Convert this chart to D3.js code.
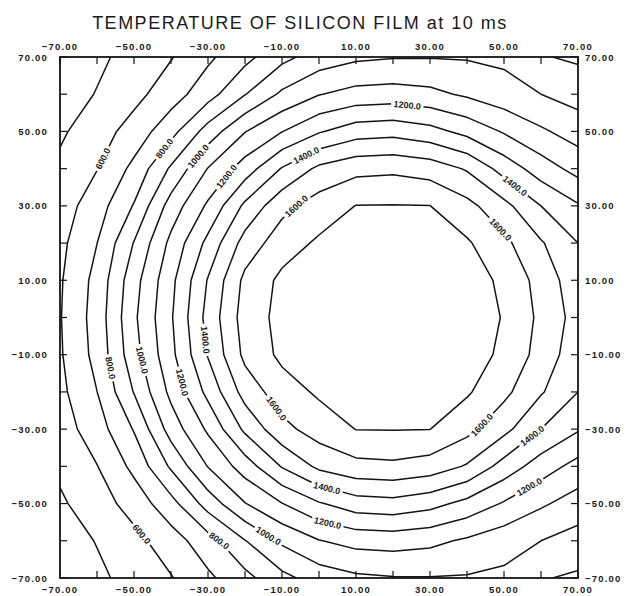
<!DOCTYPE html>
<html>
<head>
<meta charset="utf-8">
<script src="https://cdn.jsdelivr.net/npm/d3@7"></script>
<style>
  body { margin: 0; background: #fff; }
  svg { display: block; }
  text { font-family: "Liberation Sans", Arial, sans-serif; fill: #1a1a1a; }
</style>
</head>
<body>
<svg id="chart" width="631" height="596"></svg>
<script>
// grid of film temperatures
const xNodes = [-70, -60, -50, -40, -30, -20, -10, 0, 10, 20, 30, 40, 50, 60, 70];
const yNodes = [70, 60, 50, 40, 30, 20, 10, 0, -10, -20, -30, -40, -50, -60, -70];

// one row per yNodes entry, one column per xNodes entry
const tempRows = [
  [426, 479, 536, 594,  681,  770,  872,  945,  982,  994,  996,  992,  980,  907,  885],
  [450, 505, 570, 654,  759,  896, 1018, 1096, 1134, 1142, 1125, 1085, 1040, 1000,  960],
  [485, 554, 641, 765,  943, 1096, 1197, 1291, 1354, 1367, 1335, 1270, 1190, 1115, 1055],
  [520, 597, 726, 915, 1104, 1248, 1407, 1522, 1570, 1580, 1555, 1490, 1360, 1250, 1165],
  [552, 654, 807, 1043, 1217, 1421, 1570, 1646, 1702, 1704, 1701, 1630, 1530, 1400, 1310],
  [575, 699, 905, 1126, 1328, 1540, 1655, 1715, 1738, 1743, 1730, 1712, 1625, 1510, 1400],
  [589, 732, 962, 1173, 1407, 1625, 1722, 1743, 1769, 1773, 1762, 1735, 1685, 1560, 1440],
  [594, 742, 982, 1189, 1434, 1645, 1730, 1754, 1777, 1786, 1770, 1745, 1695, 1577, 1460],
  [589, 732, 962, 1173, 1407, 1625, 1722, 1743, 1769, 1773, 1762, 1735, 1685, 1560, 1440],
  [575, 699, 905, 1126, 1328, 1540, 1655, 1715, 1738, 1743, 1730, 1712, 1625, 1510, 1400],
  [552, 654, 807, 1043, 1217, 1421, 1570, 1646, 1702, 1704, 1701, 1630, 1530, 1400, 1310],
  [520, 597, 726, 915, 1104, 1248, 1407, 1522, 1570, 1580, 1555, 1490, 1360, 1250, 1165],
  [485, 554, 641, 765,  943, 1096, 1197, 1291, 1354, 1367, 1335, 1270, 1190, 1115, 1055],
  [450, 505, 570, 654,  759,  896, 1018, 1096, 1134, 1142, 1125, 1085, 1040, 1000,  960],
  [426, 479, 536, 594,  681,  770,  872,  945,  982,  994,  996,  992,  980,  907,  885]
];

const levels = [500, 600, 700, 800, 900, 1000, 1100, 1200, 1300, 1400, 1500, 1600, 1700];
const tickValues = [-70, -60, -50, -40, -30, -20, -10, 0, 10, 20, 30, 40, 50, 60, 70];
const tickLabels = [-70, -50, -30, -10, 10, 30, 50, 70];

// where the inline contour labels sit (data coords)
const labelSpots = [
  { level: 600, x: -59.2, y: 43.1 },
  { level: 800, x: -42.2, y: 45.8 },
  { level: 1000, x: -31.4, y: 42.3 },
  { level: 1200, x: -24.9, y: 37.8 },
  { level: 1400, x: -3.2, y: 43.1 },
  { level: 1600, x: -5.9, y: 29.7 },
  { level: 1200, x: 23.8, y: 56.6 },
  { level: 1400, x: 53.5, y: 36.1 },
  { level: 1600, x: 48.9, y: 23.5 },
  { level: 800, x: -55.1, y: -13.3 },
  { level: 1000, x: -47.6, y: -11.4 },
  { level: 1200, x: -37.6, y: -17.6 },
  { level: 1400, x: -31.6, y: -6.1 },
  { level: 1600, x: -13.2, y: -25.7 },
  { level: 600, x: -48.9, y: -59.0 },
  { level: 800, x: -26.8, y: -59.8 },
  { level: 1000, x: -13.2, y: -57.9 },
  { level: 1400, x: 2.2, y: -45.6 },
  { level: 1200, x: 3.0, y: -52.5 },
  { level: 1600, x: 43.5, y: -28.4 },
  { level: 1400, x: 57.0, y: -31.0 },
  { level: 1200, x: 57.8, y: -47.2 }
];

const svg = d3.select("#chart");
const x = d3.scaleLinear().domain([-70, 70]).range([60, 578]);
const y = d3.scaleLinear().domain([-70, 70]).range([578, 57]);

const defs = svg.append("defs");
defs.append("clipPath").attr("id", "plot-clip")
  .append("rect")
  .attr("x", x(-70)).attr("y", y(70))
  .attr("width", x(70) - x(-70)).attr("height", y(-70) - y(70));

// title
svg.append("text")
  .attr("x", 300).attr("y", 29)
  .attr("text-anchor", "middle")
  .style("font-size", "18px")
  .style("letter-spacing", "1.5px")
  .text("TEMPERATURE OF SILICON FILM at 10 ms");

// contours
const nx = xNodes.length, ny = yNodes.length;
const stepX = xNodes[1] - xNodes[0], stepY = yNodes[1] - yNodes[0];
const contours = d3.contours().size([nx, ny]).thresholds(levels)(tempRows.flat());

const toPx = (p) => [x(xNodes[0] + (p[0] - 0.5) * stepX), y(yNodes[0] + (p[1] - 0.5) * stepY)];
const levelRings = new Map();
contours.forEach(c => {
  let rings = [];
  c.coordinates.forEach(poly => poly.forEach(ring => rings.push(ring.map(toPx))));
  levelRings.set(c.value, rings);
});

const line = d3.line();
const plot = svg.append("g").attr("clip-path", "url(#plot-clip)");

levels.forEach(lv => {
  plot.append("path")
    .attr("d", levelRings.get(lv).map(r => line(r) + "Z").join(""))
    .attr("fill", "none")
    .attr("stroke", "#141414")
    .attr("stroke-width", 1.5)
    .attr("stroke-linejoin", "round")
    .attr("mask", labelSpots.some(s => s.level == lv) ? `url(#gap-${lv})` : null);
});

// nearest point on the contour + its direction
function snap(rings, px, py) {
  let best = { d: Infinity };
  rings.forEach(ring => {
    for (let i = 0; i < ring.length - 1; i++) {
      const a = ring[i], b = ring[i + 1];
      const vx = b[0] - a[0], vy = b[1] - a[1];
      const len2 = vx * vx + vy * vy || 1;
      let t = ((px - a[0]) * vx + (py - a[1]) * vy) / len2;
      t = Math.max(0, Math.min(1, t));
      const qx = a[0] + t * vx, qy = a[1] + t * vy;
      const d = (qx - px) ** 2 + (qy - py) ** 2;
      if (d < best.d) best = { d, x: qx, y: qy, ang: Math.atan2(vy, vx) * 180 / Math.PI };
    }
  });
  if (best.ang > 90) best.ang -= 180;
  if (best.ang <= -90) best.ang += 180;
  return best;
}

const fmt = d3.format(".1f");
const masks = {};
levels.forEach(lv => {
  if (!labelSpots.some(s => s.level == lv)) return;
  const m = defs.append("mask").attr("id", `gap-${lv}`)
    .attr("maskUnits", "userSpaceOnUse")
    .attr("x", 0).attr("y", 0).attr("width", 631).attr("height", 596);
  m.append("rect").attr("x", 0).attr("y", 0).attr("width", 631).attr("height", 596).attr("fill", "white");
  masks[lv] = m;
});

const labelG = svg.append("g");
labelSpots.forEach(s => {
  const p = snap(levelRings.get(s.level), x(s.x), y(s.y));
  const tf = `translate(${p.x},${p.y}) rotate(${p.ang})`;
  const t = labelG.append("text")
    .attr("transform", tf)
    .attr("text-anchor", "middle")
    .attr("dy", "0.35em")
    .style("font-size", "9px")
    .style("font-weight", "bold")
    .text(fmt(s.level));
  const w = t.node().getComputedTextLength() + 5;
  masks[s.level].append("rect")
    .attr("x", -w / 2).attr("y", -4.5)
    .attr("width", w).attr("height", 9)
    .attr("transform", tf)
    .attr("fill", "black");
});

// frame and ticks
svg.append("rect")
  .attr("x", x(-70)).attr("y", y(70))
  .attr("width", x(70) - x(-70)).attr("height", y(-70) - y(70))
  .attr("fill", "none").attr("stroke", "#141414").attr("stroke-width", 1.8);

const tickLen = 7;
const ticks = svg.append("g").attr("stroke", "#141414").attr("stroke-width", 1.2);
tickValues.forEach(v => {
  ticks.append("line").attr("x1", x(-70)).attr("x2", x(-70) + tickLen).attr("y1", y(v)).attr("y2", y(v));
  ticks.append("line").attr("x1", x(70)).attr("x2", x(70) - tickLen).attr("y1", y(v)).attr("y2", y(v));
  ticks.append("line").attr("y1", y(70)).attr("y2", y(70) + tickLen).attr("x1", x(v)).attr("x2", x(v));
  ticks.append("line").attr("y1", y(-70)).attr("y2", y(-70) - tickLen).attr("x1", x(v)).attr("x2", x(v));
});

const tfmt = d3.format(".2f");
const tickText = (sel) => sel.style("font-size", "9.5px").style("font-weight", "bold").style("letter-spacing", "1.2px");
const axisText = svg.append("g");
tickLabels.forEach(v => {
  axisText.append("text").call(tickText)
    .attr("x", 48).attr("y", y(v) + 3.5).attr("text-anchor", "end").text(tfmt(v));
  axisText.append("text").call(tickText)
    .attr("x", 585).attr("y", y(v) + 3.5).attr("text-anchor", "start").text(tfmt(v));
  axisText.append("text").call(tickText)
    .attr("x", x(v)).attr("y", 50).attr("text-anchor", "middle").text(tfmt(v));
  axisText.append("text").call(tickText)
    .attr("x", x(v)).attr("y", 593).attr("text-anchor", "middle").text(tfmt(v));
});
</script>
</body>
</html>
